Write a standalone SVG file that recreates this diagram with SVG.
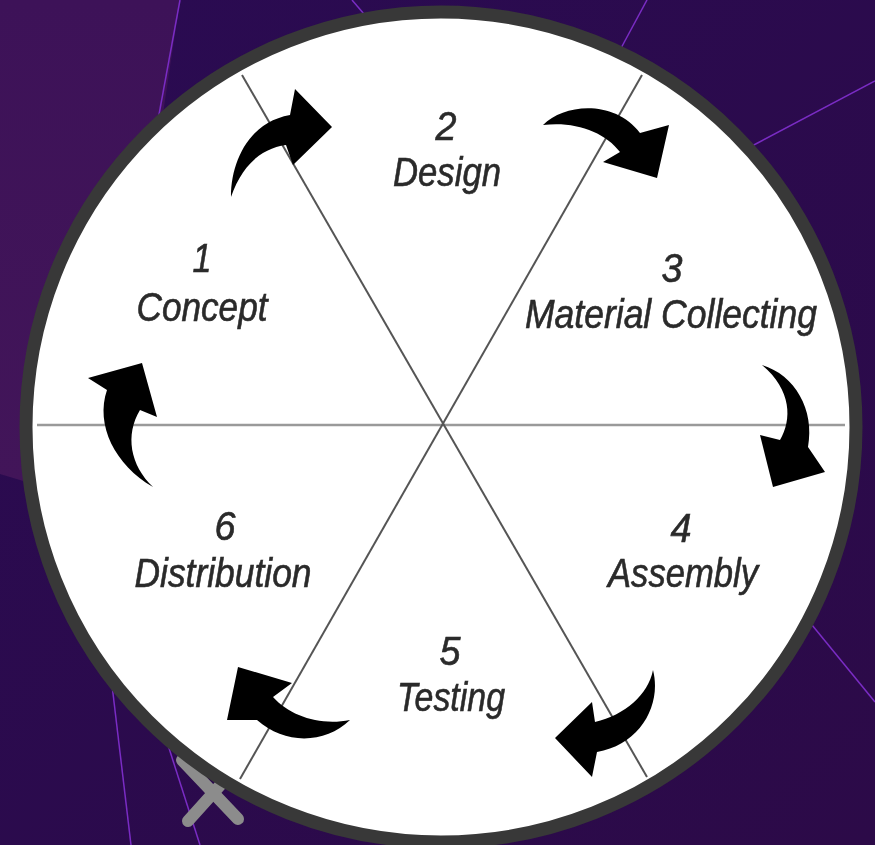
<svg xmlns="http://www.w3.org/2000/svg" width="875" height="845" viewBox="0 0 875 845">
  <defs>
    <linearGradient id="bg" x1="0" y1="0" x2="1" y2="1">
      <stop offset="0" stop-color="#2a0b52"/>
      <stop offset="1" stop-color="#2c0a48"/>
    </linearGradient>
    <linearGradient id="bgl" x1="0" y1="0" x2="0" y2="1">
      <stop offset="0" stop-color="#3d1258"/>
      <stop offset="1" stop-color="#421559"/>
    </linearGradient>
    <filter id="soft" x="-10%" y="-10%" width="120%" height="120%">
      <feGaussianBlur stdDeviation="0.7"/>
    </filter>
    <filter id="softtext" x="-5%" y="-20%" width="110%" height="140%">
      <feGaussianBlur stdDeviation="0.5"/>
    </filter>
    <style>
      .bgline { stroke: #7a2cc4; stroke-width: 1.5; fill: none; }
      .arrow { fill: #000; filter: url(#soft); }
      .lbl { font-family: "Liberation Sans", Arial, sans-serif; font-style: italic; font-size: 40px; fill: #2a2a2a; stroke: #2a2a2a; stroke-width: 0.6; text-anchor: middle; filter: url(#softtext); }
      .spoke { stroke: #555; stroke-width: 2; }
    </style>
  </defs>

  <!-- background -->
  <rect x="0" y="0" width="875" height="845" fill="url(#bg)"/>
  <polygon points="0,0 180,0 150,200 40,486 0,474" fill="url(#bgl)"/>
  <g id="bg-lines">
    <line class="bgline" x1="180" y1="0" x2="158" y2="120"/>
    <line class="bgline" x1="352" y1="0" x2="364" y2="14"/>
    <line class="bgline" x1="647" y1="0" x2="620" y2="50"/>
    <line class="bgline" x1="875" y1="81" x2="750" y2="147"/>
    <line class="bgline" x1="812" y1="625" x2="875" y2="702"/>
    <line class="bgline" x1="112" y1="685" x2="131" y2="845"/>
    <line class="bgline" x1="168" y1="745" x2="200" y2="845"/>
  </g>

  <!-- close icon partly under the circle -->
  <g id="close-icon" stroke="#8c8c8c" stroke-width="12" stroke-linecap="round" fill="none">
    <line x1="182" y1="760" x2="238" y2="819"/>
    <line x1="188" y1="821" x2="242" y2="761"/>
  </g>

  <!-- circle -->
  <g id="wheel">
    <circle cx="441" cy="427" r="415" fill="#ffffff" stroke="#383838" stroke-width="13"/>
  </g>

  <!-- spokes and arrows -->
  <g id="connectors">
    <line x1="37" y1="425" x2="845" y2="425" stroke="#9a9a9a" stroke-width="2.5"/>
    <line class="spoke" x1="242" y1="75" x2="647" y2="777"/>
    <line class="spoke" x1="642" y1="75" x2="240" y2="779"/>

    <path id="arrow-1-2" class="arrow" d="M231,197 C231,160 250,122 290,115 L295,89 L332,127 L293,165 L286,145 C262,148 242,165 231,197 Z"/>
    <path id="arrow-2-3" class="arrow" d="M543,125 C565,103 615,100 640,133 L669,125 L657,178 L603,162 L620,152 C605,132 575,121 543,125 Z"/>
    <path id="arrow-3-4" class="arrow" d="M762,365 C795,375 815,410 808,447 L825,472 L773,487 L760,435 L780,440 C792,420 792,390 762,365 Z"/>
    <path id="arrow-4-5" class="arrow" d="M653,670 C662,705 640,745 597,752 L592,777 L555,738 L592,702 L595,722 C625,715 648,695 653,670 Z"/>
    <path id="arrow-5-6" class="arrow" d="M350,720 C325,744 285,745 257,720 L227,720 L238,667 L292,683 L273,697 C290,716 320,726 350,720 Z"/>
    <path id="arrow-6-1" class="arrow" d="M153,487 C115,465 95,425 107,390 L88,378 L142,363 L157,417 L140,410 C125,435 130,465 153,487 Z"/>
  </g>

  <!-- nodes -->
  <g id="node-1">
    <text class="lbl" x="202" y="272" textLength="19" lengthAdjust="spacingAndGlyphs">1</text>
    <text class="lbl" x="202" y="321" textLength="131" lengthAdjust="spacingAndGlyphs">Concept</text>
  </g>
  <g id="node-2">
    <text class="lbl" x="446" y="140" textLength="21" lengthAdjust="spacingAndGlyphs">2</text>
    <text class="lbl" x="447" y="186" textLength="108" lengthAdjust="spacingAndGlyphs">Design</text>
  </g>
  <g id="node-3">
    <text class="lbl" x="672" y="282" textLength="21" lengthAdjust="spacingAndGlyphs">3</text>
    <text class="lbl" x="671" y="328" textLength="292" lengthAdjust="spacingAndGlyphs">Material Collecting</text>
  </g>
  <g id="node-4">
    <text class="lbl" x="681" y="542" textLength="21" lengthAdjust="spacingAndGlyphs">4</text>
    <text class="lbl" x="683" y="587" textLength="150" lengthAdjust="spacingAndGlyphs">Assembly</text>
  </g>
  <g id="node-5">
    <text class="lbl" x="450" y="665" textLength="21" lengthAdjust="spacingAndGlyphs">5</text>
    <text class="lbl" x="451" y="711" textLength="108" lengthAdjust="spacingAndGlyphs">Testing</text>
  </g>
  <g id="node-6">
    <text class="lbl" x="225" y="540" textLength="21" lengthAdjust="spacingAndGlyphs">6</text>
    <text class="lbl" x="223" y="587" textLength="177" lengthAdjust="spacingAndGlyphs">Distribution</text>
  </g>
</svg>
